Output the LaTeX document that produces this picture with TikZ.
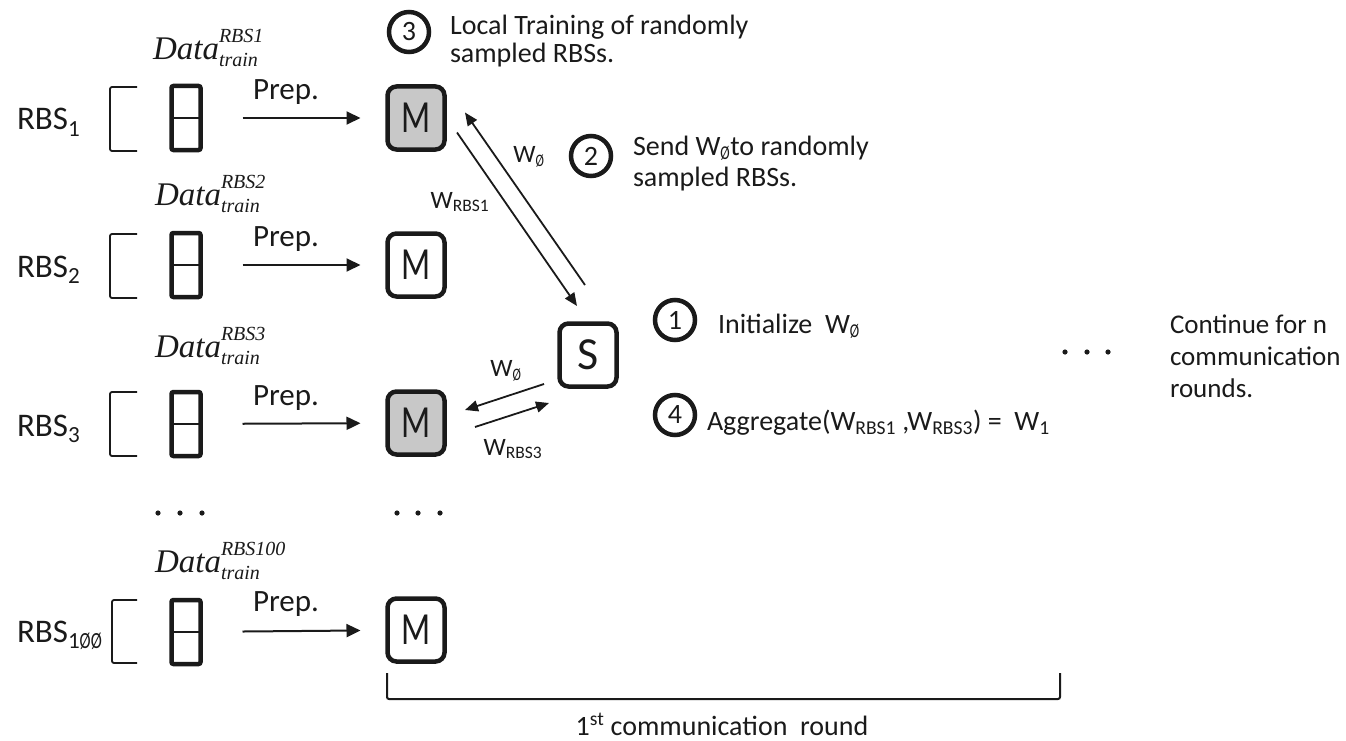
\documentclass[tikz,border=0pt]{standalone}
\usepackage{fontspec}
\setmainfont{Carlito}
\newfontfamily\dataf{Liberation Serif}
\usetikzlibrary{arrows.meta,calc}

\newcommand\fs[1]{\fontsize{#1}{#1}\selectfont}
% slashed zero used in the weight subscripts
\newcommand\zsl{\scalebox{0.72}[1]{Ø}}
% dataset label: italic name with stacked super- and subscript
\newcommand\dlabel[1]{{\dataf\itshape Data\rlap{\raisebox{17pt}{\fs{20}#1}}\raisebox{-7pt}{\fs{20}train}}}

\definecolor{ink}{HTML}{1A1A1A}
\definecolor{boxgray}{HTML}{C8C8C8}

\begin{document}
\begin{tikzpicture}[x=1pt,y=-1pt,
  every node/.style={inner sep=0pt, outer sep=0pt, text=ink},
  mbox/.style={draw=ink, line width=4.5pt, rounded corners=9pt,
    minimum width=57pt, minimum height=63pt, font=\fs{46}},
  graybox/.style={mbox, fill=boxgray},
  dbox/.style={draw=ink, line width=4.5pt, rounded corners=2pt,
    minimum width=29pt, minimum height=64pt},
  divider/.style={draw=ink, line width=2.5pt},
  brk/.style={draw=ink, line width=1.8pt, rounded corners=2pt},
  prep/.style={draw=ink, line width=2pt, shorten <=42pt, shorten >=27pt,
    -{Triangle[length=14pt,width=13pt]}},
  wire/.style={draw=ink, line width=1.8pt, -{Triangle[length=13pt,width=11pt]}},
  stepc/.style={circle, draw=ink, line width=4.5pt, minimum size=40pt, font=\fs{28}},
  rbs/.style={anchor=base west, font=\fs{33}},
  dlab/.style={anchor=base west, font=\fs{33}},
  plab/.style={anchor=base west, font=\fs{31}},
  wl/.style={font=\fs{25}},
  txt/.style={anchor=base west, font=\fs{28}},
  side/.style={anchor=base west, font=\fs{27}},
]
\useasboundingbox (0,0) rectangle (1346,741);

% ---- local datasets, preprocessing and local models ----
% row 1
\node[rbs] (r1) at (17,130) {RBS\textsubscript{1}};
\draw[brk] (137,87) -- (110,87) -- (110,151) -- (137,151);
\node[dbox] (d1) at (186,118) {};
\draw[divider] (d1.west) -- (d1.east);
\node[dlab] (t1) at (153,60) {\dlabel{RBS1}};
\node[graybox] (m1) at (416,118) {\scalebox{0.74}[1]{M}};
\draw[prep] (d1) -- (m1);
\node[plab] (p1) at (253,100) {Prep.};

% row 2
\node[rbs] (r2) at (17,277) {RBS\textsubscript{2}};
\draw[brk] (137,234) -- (110,234) -- (110,298) -- (137,298);
\node[dbox] (d2) at (186,265) {};
\draw[divider] (d2.west) -- (d2.east);
\node[dlab] (t2) at (155,205) {\dlabel{RBS2}};
\node[mbox] (m2) at (416,265) {\scalebox{0.74}[1]{M}};
\draw[prep] (d2) -- (m2);
\node[plab] (p2) at (253,246) {Prep.};

% row 3
\node[rbs] (r3) at (17,436) {RBS\textsubscript{3}};
\draw[brk] (137,392) -- (110,392) -- (110,456) -- (137,456);
\node[dbox] (d3) at (186,424) {};
\draw[divider] (d3.west) -- (d3.east);
\node[dlab] (t3) at (155,357) {\dlabel{RBS3}};
\node[graybox] (m3) at (416,423) {\scalebox{0.74}[1]{M}};
\draw[prep] (d3) -- (m3);
\node[plab] (p3) at (253,405) {Prep.};

% ellipsis between rows
\fill[ink] (158,513) circle (2.6) (180,513) circle (2.6) (202,513) circle (2.6);
\fill[ink] (397,513) circle (2.6) (418,513) circle (2.6) (440,513) circle (2.6);

% row 100
\node[rbs] (r4) at (17,642) {RBS\textsubscript{1\zsl\zsl}};
\draw[brk] (137,600) -- (112,600) -- (112,663) -- (137,663);
\node[dbox] (d4) at (186,632) {};
\draw[divider] (d4.west) -- (d4.east);
\node[dlab] (t4) at (155,572) {\dlabel{RBS100}};
\node[mbox] (m4) at (416,630) {\scalebox{0.74}[1]{M}};
\draw[prep] (d4) -- (m4);
\node[plab] (p4) at (253,611) {Prep.};

% ---- server and weight exchange ----
\node[mbox] (s) at (588,355) {S};

\draw[wire] ($(m1.east)+(12.5,14.5)$) -- ($(s.north)+(-11,-17.5)$);
\draw[wire] ($(s.north)+(-3,-38.5)$) -- ($(m1.east)+(20.5,-5.5)$);
\node[wl] (lw0a) at (529,157) {W\textsubscript{\zsl}};
\node[wl] (lwr1) at (460,202) {W\textsubscript{RBS1}};

\draw[wire] ($(s.south west)+(-15.5,-2.5)$) -- ($(m3.east)+(20.5,-13)$);
\draw[wire] ($(m3.east)+(30.5,4)$) -- ($(s.south west)+(-10.5,16.5)$);
\node[wl] (lw0b) at (506,371) {W\textsubscript{\zsl}};
\node[wl] (lwr3) at (513,449) {W\textsubscript{RBS3}};

% ---- numbered steps ----
\node[stepc] (c3) at (409,32) {3};
\node[txt] (s3a) at (450,35) {Local Training of randomly};
\node[txt] (s3b) at (450,63) {sampled RBSs.};

\node[stepc] (c2) at (591,156) {2};
\node[txt] (s2a) at (633,155) {Send W\textsubscript{\zsl}to randomly};
\node[txt] (s2b) at (633,186) {sampled RBSs.};

\node[stepc] (c1) at (675,320) {1};
\node[txt] (s1) at (718,333) {Initialize\ \ W\textsubscript{\zsl}};

\node[stepc] (c4) at (675,415) {4};
\node[txt] (s4) at (707,430) {Aggregate(W\textsubscript{RBS1} ,W\textsubscript{RBS3}) =\ \ W\textsubscript{1}};

% ---- further rounds ----
\fill[ink] (1065,352) circle (2.6) (1087,352) circle (2.6) (1108,352) circle (2.6);
\node[side] (n1) at (1170,333) {Continue for n};
\node[side] (n2) at (1170,365) {communication};
\node[side] (n3) at (1170,397) {rounds.};

% ---- first round brace ----
\draw[brk, line width=2pt] (387,673) -- (387,699) -- (1060,699) -- (1060,673);
\node[anchor=base, font=\fs{28}] (round) at (722,735) {1\textsuperscript{st} communication\ \ round};
\end{tikzpicture}
\end{document}
